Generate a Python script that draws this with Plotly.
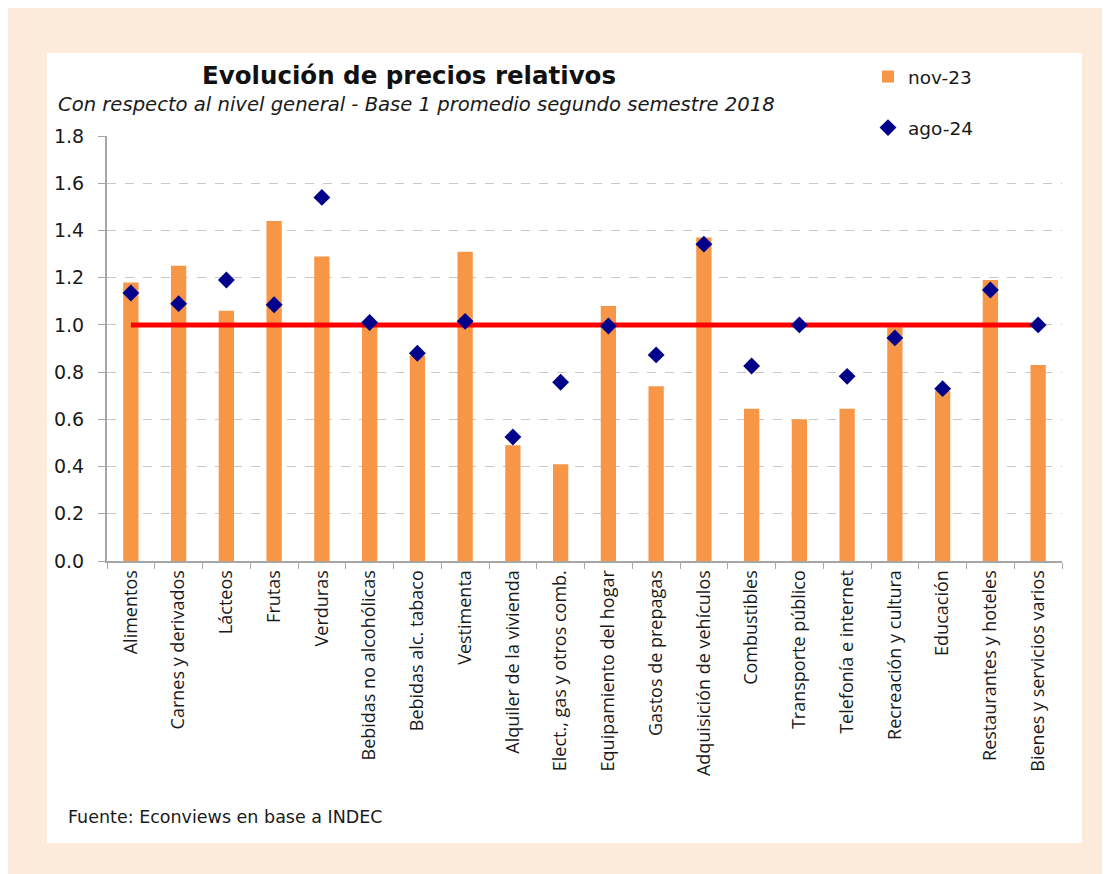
import plotly.graph_objects as go

categories = [
    "Alimentos", "Carnes y derivados", "Lácteos", "Frutas", "Verduras",
    "Bebidas no alcohólicas", "Bebidas alc. tabaco", "Vestimenta",
    "Alquiler de la vivienda", "Elect., gas y otros comb.",
    "Equipamiento del hogar", "Gastos de prepagas", "Adquisición de vehículos",
    "Combustibles", "Transporte público", "Telefonía e internet",
    "Recreación y cultura", "Educación", "Restaurantes y hoteles",
    "Bienes y servicios varios",
]
nov_23 = [1.18, 1.25, 1.06, 1.44, 1.29, 1.00, 0.87, 1.31, 0.49, 0.41,
          1.08, 0.74, 1.37, 0.645, 0.60, 0.645, 0.99, 0.72, 1.19, 0.83]
ago_24 = [1.135, 1.09, 1.19, 1.085, 1.54, 1.01, 0.88, 1.015, 0.525, 0.757,
          0.995, 0.873, 1.342, 0.826, 1.00, 0.782, 0.945, 0.73, 1.148, 1.00]
base_level = 1.0
y_ticks = [0.0, 0.2, 0.4, 0.6, 0.8, 1.0, 1.2, 1.4, 1.6, 1.8]

# page offset (body margin) and figure size
OFF = 8
W, H = 1102, 866
# pixel geometry of the plot area, in page coordinates
L, R, T, B = 107, 1062, 136, 561
pw, ph = R - L, B - T

def px(x):
    return (x - L) / pw

def py(y):
    return (B - y) / ph

fig = go.Figure()
fig.add_trace(go.Bar(
    x=categories, y=nov_23, name="nov-23",
    marker=dict(color="#F79646", line=dict(width=0)),
    legendgroup="a",
))
fig.add_trace(go.Scatter(
    x=[categories[0], categories[-1]], y=[base_level, base_level],
    mode="lines", line=dict(color="#FF0000", width=5),
    showlegend=False, hoverinfo="skip",
))
fig.add_trace(go.Scatter(
    x=categories, y=ago_24, name="ago-24", mode="markers",
    marker=dict(symbol="diamond", color="#00008B", size=13, line=dict(width=0)),
    legendgroup="b",
))

fig.update_layout(
    width=W, height=H,
    margin=dict(l=L - OFF, r=W - (R - OFF), t=T - OFF, b=H - (B - OFF), autoexpand=False),
    paper_bgcolor="#FCEADB",
    plot_bgcolor="rgba(0,0,0,0)",
    bargap=0.68,
    font=dict(family="DejaVu Sans", color="#1a1a1a"),
    showlegend=True,
    legend=dict(
        x=px(868), y=py(58), xanchor="left", yanchor="top",
        bgcolor="rgba(0,0,0,0)", font=dict(size=18.5, family="DejaVu Sans"),
        traceorder="grouped", tracegroupgap=24, itemwidth=30,
    ),
    shapes=[dict(
        type="rect", xref="paper", yref="paper", layer="below",
        x0=px(47), x1=px(1082), y0=py(843), y1=py(53),
        fillcolor="white", line=dict(width=0),
    )],
    annotations=[
        dict(text="<b>Evolución de precios relativos</b>", xref="paper", yref="paper",
             x=px(409), y=py(75), xanchor="center", yanchor="middle", showarrow=False,
             font=dict(size=24.5, family="DejaVu Sans", color="#111111")),
        dict(text="<i>Con respecto al nivel general - Base 1 promedio segundo semestre 2018</i>",
             xref="paper", yref="paper", x=px(56), y=py(105), xanchor="left", yanchor="middle",
             showarrow=False, font=dict(size=19.6, family="DejaVu Sans", color="#1a1a1a")),
        dict(text="Fuente: Econviews en base a INDEC", xref="paper", yref="paper",
             x=px(66), y=py(817), xanchor="left", yanchor="middle", showarrow=False,
             font=dict(size=17.5, family="DejaVu Sans", color="#1a1a1a")),
    ],
)
fig.update_yaxes(
    range=[0, 1.8], tickvals=y_ticks, ticktext=[f"{v:.1f}" for v in y_ticks],
    showgrid=True, gridcolor="#C8C8C8", griddash="dash", gridwidth=1,
    showline=True, linecolor="#A6A6A6", linewidth=2,
    ticks="outside", ticklen=7, tickcolor="#A6A6A6", tickwidth=1,
    ticklabelstandoff=10,
    tickfont=dict(size=19, family="DejaVu Sans", color="#1a1a1a"),
    zeroline=False, fixedrange=True,
)
fig.update_xaxes(
    type="category", range=[-0.5, len(categories) - 0.5],
    tickangle=-90, tickson="boundaries",
    showline=True, linecolor="#A6A6A6", linewidth=2,
    ticks="outside", ticklen=6, tickcolor="#A6A6A6", tickwidth=1,
    tickfont=dict(size=18, family="Open Sans", color="#1a1a1a"),
    showgrid=False, fixedrange=True,
)

fig.write_html("out.html")
